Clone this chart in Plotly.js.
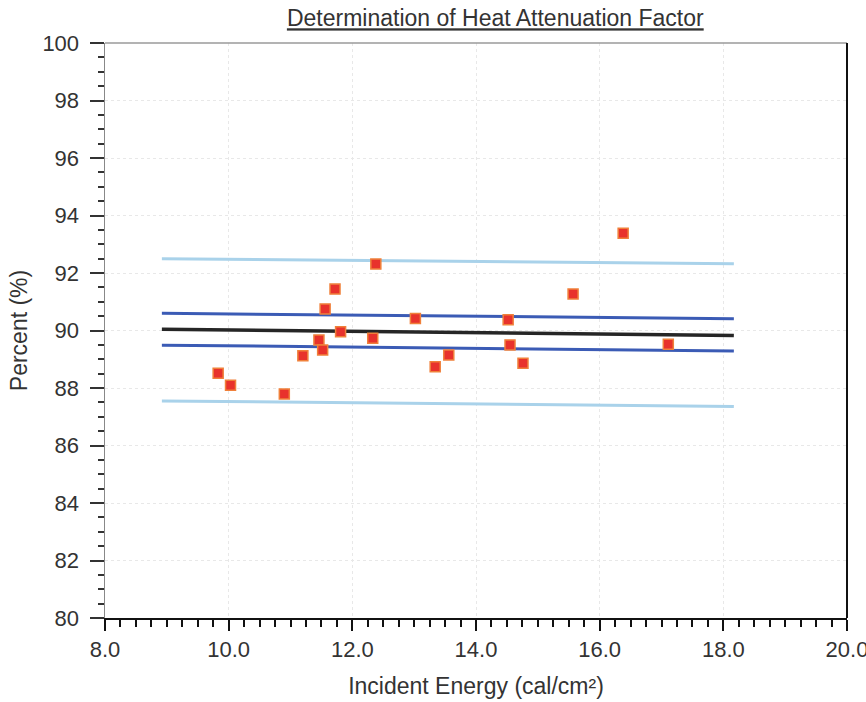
<!DOCTYPE html>
<html>
<head>
<meta charset="utf-8">
<script src="https://cdn.plot.ly/plotly-3.0.1.min.js"></script>
<style>
html,body{margin:0;padding:0;background:#fff;}
#chart{width:866px;height:702px;}
</style>
</head>
<body>
<div id="chart"></div>
<script>
// Measured data points
const energy = [9.83, 10.03, 10.90, 11.20, 11.46, 11.52, 11.56, 11.72, 11.81, 12.33,
                12.38, 13.02, 13.34, 13.56, 14.52, 14.55, 14.76, 15.57, 16.38, 17.11];
const percent = [88.51, 88.10, 87.79, 89.12, 89.67, 89.32, 90.75, 91.44, 89.96, 89.73,
                 92.31, 90.42, 88.74, 89.15, 90.37, 89.50, 88.86, 91.27, 93.38, 89.52];

// Fit line and bands (start / end)
const lineX = [8.92, 18.17];
const fitY = [90.04, 89.83];
const confUpperY = [90.60, 90.41];
const confLowerY = [89.49, 89.29];
const predUpperY = [92.50, 92.32];
const predLowerY = [87.55, 87.36];

const xTickVals = [8, 10, 12, 14, 16, 18, 20];
const xTickText = ['8.0', '10.0', '12.0', '14.0', '16.0', '18.0', '20.0'];
const yTickVals = [80, 82, 84, 86, 88, 90, 92, 94, 96, 98, 100];

const FONT = '"Liberation Sans", Arial, sans-serif';

function band(y, color, width) {
  return {x: lineX, y: y, mode: 'lines', type: 'scatter', hoverinfo: 'skip',
          line: {color: color, width: width}, showlegend: false};
}

const traces = [
  band(predUpperY, '#a9d2ea', 3),
  band(predLowerY, '#a9d2ea', 3),
  band(confUpperY, '#3b5bb5', 3),
  band(confLowerY, '#3b5bb5', 3),
  band(fitY, '#262626', 3.5),
  {x: energy, y: percent, mode: 'markers', type: 'scatter', showlegend: false,
   marker: {symbol: 'square', size: 10, color: '#e8322c',
            line: {color: '#f0803a', width: 1.5}}}
];

const layout = {
  width: 866, height: 702,
  margin: {l: 105, r: 19, t: 43, b: 84},
  paper_bgcolor: '#ffffff', plot_bgcolor: '#ffffff',
  font: {family: FONT, color: '#333', size: 22},
  title: {text: 'Determination of Heat Attenuation Factor',
          font: {family: FONT, size: 23, color: '#333', lineposition: 'under'},
          xref: 'paper', x: 0.526, xanchor: 'center', yref: 'container', y: 0.974, yanchor: 'middle'},
  xaxis: {
    range: [8, 20], tickvals: xTickVals, ticktext: xTickText,
    showline: true, linecolor: '#111', linewidth: 2,
    ticks: 'outside', ticklen: 11, tickwidth: 2, tickcolor: '#111',
    minor: {ticks: 'outside', dtick: 0.25, ticklen: 7, tickwidth: 2, tickcolor: '#111', showgrid: false},
    showgrid: true, gridcolor: '#e8e8e8', griddash: 'dot', gridwidth: 1,
    zeroline: false, ticklabeloverflow: 'allow',
    tickfont: {family: FONT, size: 22, color: '#333'},
    title: {text: 'Incident Energy (cal/cm²)', font: {family: FONT, size: 23, color: '#333'}, standoff: 16}
  },
  yaxis: {
    range: [80, 100], tickvals: yTickVals,
    showline: true, linecolor: '#888', linewidth: 1.5,
    ticks: 'outside', ticklen: 14, tickwidth: 2, tickcolor: '#333',
    minor: {ticks: 'outside', dtick: 0.5, ticklen: 6, tickwidth: 2, tickcolor: '#333', showgrid: false},
    showgrid: true, gridcolor: '#e8e8e8', griddash: 'dot', gridwidth: 1,
    zeroline: false, ticklabelstandoff: 6,
    tickfont: {family: FONT, size: 22, color: '#333'},
    title: {text: 'Percent (%)', font: {family: FONT, size: 23, color: '#333'}, standoff: 8}
  },
  shapes: [
    {type: 'line', xref: 'paper', yref: 'paper', x0: 0, x1: 1, y0: 1, y1: 1,
     line: {color: '#9a9a9a', width: 1.5}},
    {type: 'line', xref: 'paper', yref: 'paper', x0: 1, x1: 1, y0: 0, y1: 1,
     line: {color: '#111', width: 2}}
  ]
};

Plotly.newPlot('chart', traces, layout, {displayModeBar: false, staticPlot: true});
</script>
</body>
</html>
